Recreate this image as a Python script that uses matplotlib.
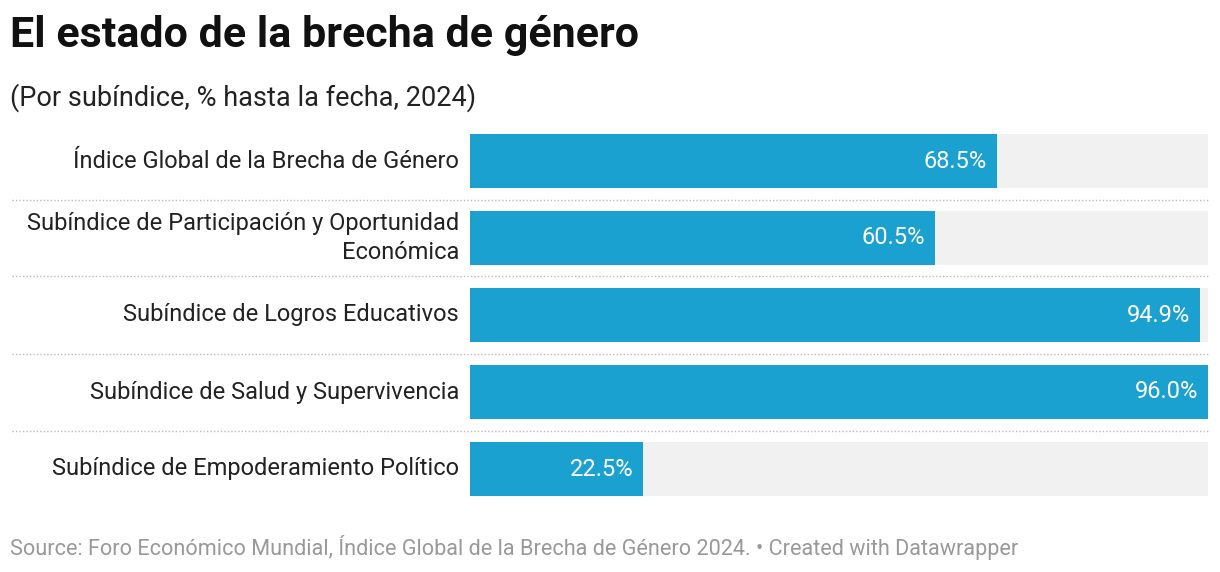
import matplotlib.pyplot as plt
from matplotlib.lines import Line2D
from matplotlib.transforms import blended_transform_factory

plt.rcParams['font.family'] = ['Roboto', 'DejaVu Sans']

labels = [
    "Índice Global de la Brecha de Género",
    "Subíndice de Participación y Oportunidad\nEconómica",
    "Subíndice de Logros Educativos",
    "Subíndice de Salud y Supervivencia",
    "Subíndice de Empoderamiento Político",
]
values = [68.5, 60.5, 94.9, 96.0, 22.5]

W, H = 1220, 572
fig = plt.figure(figsize=(W / 100, H / 100), dpi=100)

# axes placed in pixel terms: x 470..1208, rows centred 161..469 (pitch 77)
x0, x1 = 470, 1208
top, bottom = 161 - 38.5, 469 + 38.5
ax = fig.add_axes([x0 / W, 1 - bottom / H, (x1 - x0) / W, (bottom - top) / H])
ax.set_xlim(0, max(values))
ax.set_ylim(len(values) - 0.5, -0.5)
ax.axis("off")

ys = range(len(values))
ax.barh(ys, [max(values)] * len(values), height=0.7, color="#f1f1f1", zorder=1)
ax.barh(ys, values, height=0.7, color="#1aa1cf", zorder=2)

trans = blended_transform_factory(fig.transFigure, ax.transData)
for i, (lab, v) in enumerate(zip(labels, values)):
    ax.text(459 / W, i, lab, transform=trans, ha="right", va="center",
            fontsize=17, color="#222222", linespacing=1.3)
    ax.annotate(f"{v:.1f}%", (v, i), xytext=(-7, 0), textcoords="offset points",
                ha="right", va="center", fontsize=17, color="white", zorder=3)

for i in range(len(values) - 1):
    y = 1 - (161 + 77 * (i + 0.5)) / H
    fig.add_artist(Line2D([12 / W, 1208 / W], [y, y], transform=fig.transFigure,
                          color="#bbbbbb", linestyle=(0, (1, 1.5)), linewidth=1))

fig.text(10 / W, 1 - 36 / H, "El estado de la brecha de género", fontsize=31,
         fontweight="bold", va="center", color="#111111")
fig.text(10 / W, 1 - 98 / H, "(Por subíndice, % hasta la fecha, 2024)", fontsize=19.5,
         va="center", color="#222222")
fig.text(10 / W, 1 - 548 / H,
         "Source: Foro Económico Mundial, Índice Global de la Brecha de Género 2024. • Created with Datawrapper",
         fontsize=15.6, va="center", color="#999999")

fig.savefig("out.png", dpi=100)
